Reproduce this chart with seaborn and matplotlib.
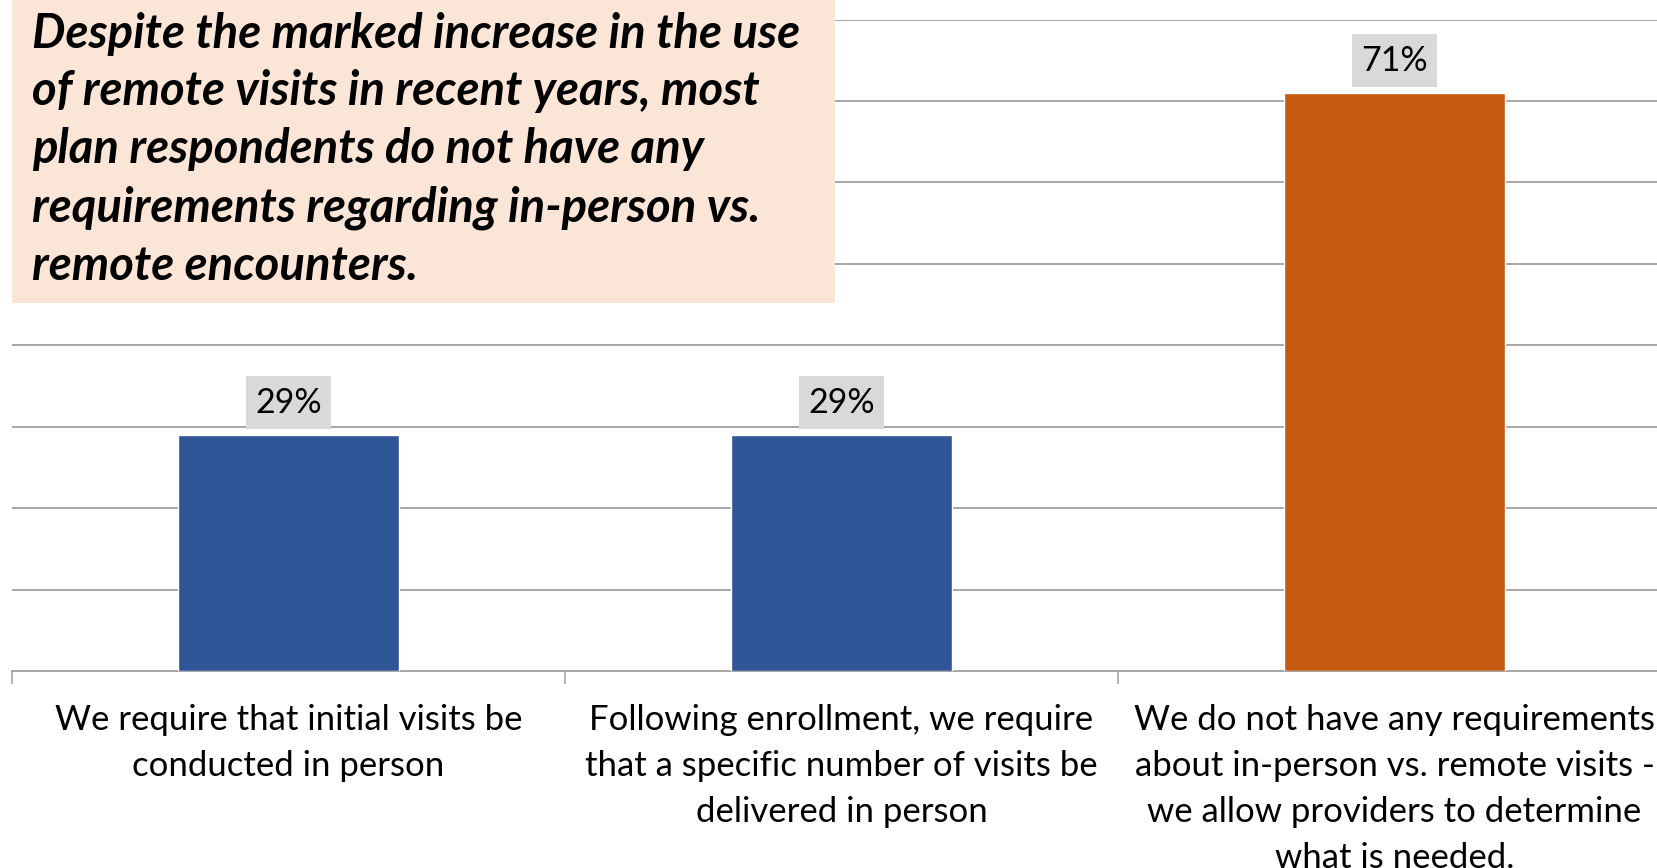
import matplotlib
matplotlib.use("Agg")
import matplotlib.pyplot as plt
import seaborn as sns
import pandas as pd
from matplotlib.patches import Rectangle
from matplotlib.path import Path

# Survey responses (share of plan respondents)
categories = [
    "We require that initial visits be\nconducted in person",
    "Following enrollment, we require\nthat a specific number of visits be\ndelivered in person",
    "We do not have any requirements\nabout in-person vs. remote visits -\nwe allow providers to determine\nwhat is needed.",
]
values = [29, 29, 71]
value_labels = ["29%", "29%", "71%"]
bar_colors = ["#2F5597", "#2F5597", "#C55A11"]
headline_lines = [
    "Despite the marked increase in the use",
    "of remote visits in recent years, most",
    "plan respondents do not have any",
    "requirements regarding in-person vs.",
    "remote encounters.",
]

sns.set_theme(style="white")
plt.rcParams["font.family"] = ["Lato", "DejaVu Sans"]

W, H = 1658, 868
fig = plt.figure(figsize=(W / 100, H / 100), dpi=100)
fig.patch.set_facecolor("white")

# axes: baseline at y=671px, 80% gridline at y=19.5px, x runs past right edge
ax = fig.add_axes([12 / W, (H - 671) / H, (1671 - 12) / W, (671 - 19.5) / H])

df = pd.DataFrame({"category": categories, "value": values})
sns.barplot(data=df, x="category", y="value", hue="category",
            palette=bar_colors, width=0.4, saturation=1, legend=False, ax=ax,
            zorder=3)

ax.set_xlim(-0.5, 2.5)
ax.set_ylim(0, 80)
ax.set_yticks(range(0, 81, 10))
ax.yaxis.grid(True, color="#A6A6A6", linewidth=1.4, zorder=0)
ax.set_axisbelow(True)
ax.tick_params(axis="y", left=False, labelleft=False)
ax.set_xlabel("")
ax.set_ylabel("")

for side in ["left", "right", "top"]:
    ax.spines[side].set_visible(False)
ax.spines["bottom"].set_color("#A6A6A6")
ax.spines["bottom"].set_linewidth(1.4)

# category separators below the baseline
ax.set_xticks([-0.5, 0.5, 1.5, 2.5], minor=True)
ax.tick_params(axis="x", which="minor", bottom=True, length=9,
               width=1.2, color="#A6A6A6", direction="out")
ax.tick_params(axis="x", which="major", length=0, pad=24,
               labelsize=25, labelcolor="black")
for t in ax.get_xticklabels():
    t.set_linespacing(1.54)
    t.set_ha("center")


def label_box(x0, y0, width, height, mutation_size):
    """Flat rectangle, wider vertical padding than horizontal."""
    px, py = 0.26 * mutation_size, 0.31 * mutation_size
    x1, y1 = x0 + width + px, y0 + height + py
    xa, ya = x0 - px, y0 - py
    return Path([(xa, ya), (x1, ya), (x1, y1), (xa, y1), (xa, ya)],
                closed=True)


for container, lab in zip(ax.containers, value_labels):
    ax.bar_label(container, labels=[lab], padding=11.5, fontsize=24.5,
                 color="black",
                 bbox=dict(boxstyle=label_box, fc="#D9D9D9", ec="none"))

# headline callout
fig.add_artist(Rectangle((12 / W, 1 - 303 / H), (835 - 12) / W, 303 / H,
                         transform=fig.transFigure, facecolor="#FBE5D6",
                         edgecolor="none", zorder=5))
baselines = [48, 105, 163, 222, 280]
for line, yb in zip(headline_lines, baselines):
    fig.text(32 / W, 1 - yb / H, line, ha="left", va="baseline",
             fontsize=34, fontweight="bold", fontstyle="italic",
             color="black", zorder=6)

fig.savefig("out.png", dpi=100)
